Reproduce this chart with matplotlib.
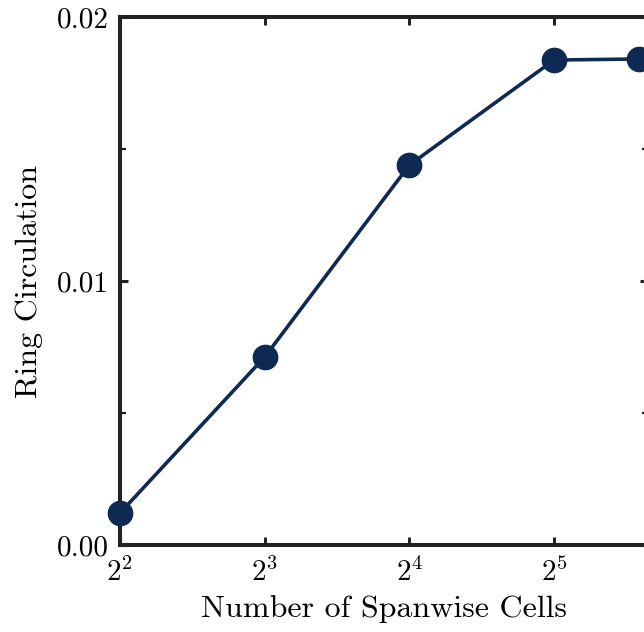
import matplotlib
matplotlib.use("Agg")
import matplotlib.pyplot as plt
from matplotlib.ticker import FixedLocator, MultipleLocator

plt.rcParams["font.family"] = "serif"
plt.rcParams["font.serif"] = ["cmr10"]
plt.rcParams["mathtext.fontset"] = "cm"
plt.rcParams["axes.formatter.use_mathtext"] = True

# Spanwise resolution study
spanwise_cells = [4, 8, 16, 32, 48]
ring_circulation = [0.00121, 0.00712, 0.01439, 0.01837, 0.01841]
x_ticks = [4, 8, 16, 32]
x_tick_labels = [r"$2^{2}$", r"$2^{3}$", r"$2^{4}$", r"$2^{5}$"]
y_ticks = [0.00, 0.01, 0.02]
y_tick_labels = ["0.00", "0.01", "0.02"]

line_color = "#0f2a52"
spine_color = "#222222"

fig = plt.figure(figsize=(6.44, 6.32), dpi=100)
ax = fig.add_axes([120 / 644, 87 / 632, 528 / 644, 528 / 632])

ax.plot(spanwise_cells, ring_circulation, color=line_color, lw=2.6,
        marker="o", ms=17.5, mfc=line_color, mec=line_color, clip_on=False, zorder=3)

ax.set_xscale("log", base=2)
ax.set_xlim(4, 50.2)
ax.set_ylim(0, 0.02)

ax.xaxis.set_major_locator(FixedLocator(x_ticks))
ax.xaxis.set_minor_locator(FixedLocator([]))
ax.set_xticklabels(x_tick_labels)
ax.yaxis.set_major_locator(FixedLocator(y_ticks))
ax.set_yticklabels(y_tick_labels)
ax.yaxis.set_minor_locator(MultipleLocator(0.005))

ax.tick_params(axis="both", which="major", direction="in", length=6, width=2.2,
               color=spine_color, labelsize=21, top=True, right=True, pad=8)
ax.tick_params(axis="both", which="minor", direction="in", length=4, width=1.6,
               color=spine_color, top=True, right=True)
ax.tick_params(axis="x", which="major", pad=9)

for s in ax.spines.values():
    s.set_linewidth(2.9)
    s.set_color(spine_color)

ax.set_xlabel("Number of Spanwise Cells", fontsize=23, labelpad=6)
ax.set_ylabel("Ring Circulation", fontsize=23, labelpad=10)

fig.savefig("out.png", dpi=100)
